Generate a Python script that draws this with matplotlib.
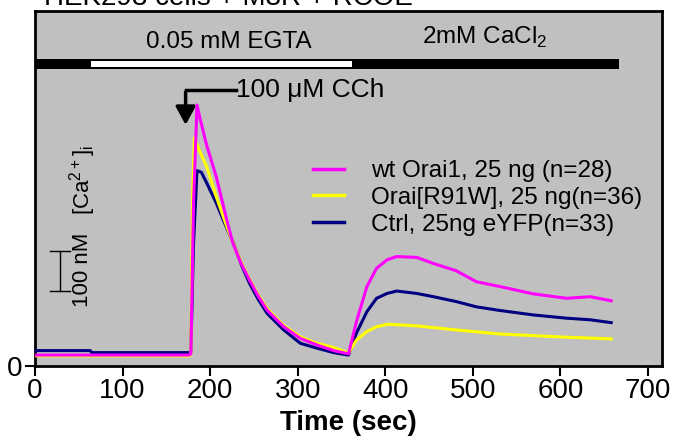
import matplotlib
matplotlib.use("Agg")
import matplotlib.pyplot as plt

plt.rcParams["font.family"] = ["Liberation Sans", "DejaVu Sans"]
plt.rcParams["mathtext.fontset"] = "custom"
plt.rcParams["mathtext.rm"] = "Liberation Sans"

# traces: time (s) and [Ca2+]i (nM)
t_wt = [0, 65, 120, 176, 178, 181, 185, 188, 196, 207, 219, 226, 235, 245,
        255, 265, 284, 303, 322, 341, 358, 367, 379, 390, 402, 413, 436, 455,
        481, 504, 531, 569, 607, 634, 658]
ca_wt = [27, 27, 27, 27, 30, 400, 644, 615, 545, 467, 360, 303, 255, 212, 172,
         138, 97, 68, 52, 38, 30, 109, 196, 241, 262, 270, 268, 253, 235, 208,
         196, 178, 167, 171, 161]

t_r91w = [0, 65, 120, 176, 178, 180, 182, 188, 196, 207, 219, 226, 235, 245,
          255, 265, 284, 303, 322, 341, 358, 367, 379, 390, 403, 436, 481, 531,
          569, 607, 658]
ca_r91w = [25, 25, 25, 25, 28, 420, 563, 530, 492, 418, 344, 305, 258, 214,
           175, 142, 100, 72, 56, 46, 32, 64, 85, 97, 103, 99, 89, 79, 75, 71,
           67]

t_ctrl = [0, 63, 65, 120, 176, 178, 181, 185, 190, 196, 207, 219, 228, 236,
          245, 255, 265, 284, 303, 322, 341, 358, 367, 379, 390, 402, 413, 436,
          455, 481, 504, 531, 569, 607, 634, 658]
ca_ctrl = [38, 38, 33, 33, 33, 36, 300, 482, 478, 452, 402, 340, 296, 248,
           204, 164, 130, 89, 56, 44, 33, 27, 81, 134, 167, 179, 185, 179, 171,
           159, 146, 137, 126, 118, 114, 107]

labels = ["wt Orai1, 25 ng (n=28)", "Orai[R91W], 25 ng(n=36)",
          "Ctrl, 25ng eYFP(n=33)"]
colors = ["#ff00ff", "#ffff00", "#000080"]

# solution bar: EGTA from 64 to 362 s, CaCl2 until 667 s
bar_start, egta_start, egta_end, bar_end = 0, 64, 362, 667
bar_lo, bar_hi = 733, 758

fig = plt.figure(figsize=(6.88, 4.38), dpi=100)
ax = fig.add_axes([35 / 688, 72 / 438, 627 / 688, 355 / 438])
ax.set_facecolor("#c0c0c0")

ax.plot(t_ctrl, ca_ctrl, color=colors[2], lw=2.2, zorder=3)
ax.plot(t_r91w, ca_r91w, color=colors[1], lw=2.2, zorder=4)
ax.plot(t_wt, ca_wt, color=colors[0], lw=2.2, zorder=5)

# legend handles
h = [plt.Line2D([], [], color=c, lw=2.5) for c in colors]
ax.legend(h, labels, loc="upper left", bbox_to_anchor=(0.443, 0.58),
          frameon=False, fontsize=17.5, handlelength=1.3, handletextpad=1.1,
          labelspacing=0.2, borderpad=0, borderaxespad=0)

# top bar
ax.fill_between([bar_start, bar_end], bar_lo, bar_hi, color="black", lw=0)
ax.fill_between([egta_start, egta_end], bar_lo + 5, bar_hi - 5,
                color="white", lw=0)
ax.text(221, 800, "0.05 mM EGTA", ha="center", va="center", fontsize=17.5)
ax.text(514, 810, "2mM CaCl$_\\mathregular{2}$", ha="center", va="center",
        fontsize=17.5)

# CCh arrow
ax.plot([172, 229], [681, 681], color="black", lw=2.5)
ax.annotate("", xy=(172, 588), xytext=(172, 683),
            arrowprops=dict(arrowstyle="-|>,head_length=1.1,head_width=0.6",
                            color="black", lw=2.5))
ax.text(230, 681, "100 \u03bcM CCh", ha="left", va="center", fontsize=19)

# scale bar and label
ax.plot([28.5, 28.5], [185, 285], color="black", lw=1)
ax.plot([17, 40], [185, 185], color="black", lw=1)
ax.plot([17, 40], [285, 285], color="black", lw=1)
ax.text(54, 237, "100 nM", rotation=90, ha="center", va="center", fontsize=16)
ax.text(54, 460, "[Ca$^\\mathregular{2+}$]$_\\mathregular{i}$", rotation=90,
        ha="center", va="center", fontsize=16)

ax.set_xlim(0, 716)
ax.set_ylim(0, 876)
ax.set_xticks(range(0, 701, 100))
ax.set_yticks([0])
ax.tick_params(axis="both", direction="out", length=7, width=1.5,
               labelsize=20, pad=2)
for s in ax.spines.values():
    s.set_linewidth(2)
ax.set_xlabel("Time (sec)", fontsize=20, fontweight="bold", labelpad=4)

fig.text(44 / 688, 1 - 5 / 438, "HEK293 cells + M3R + RCOE", ha="left",
         va="baseline", fontsize=20)

fig.savefig("out.png", dpi=100)
